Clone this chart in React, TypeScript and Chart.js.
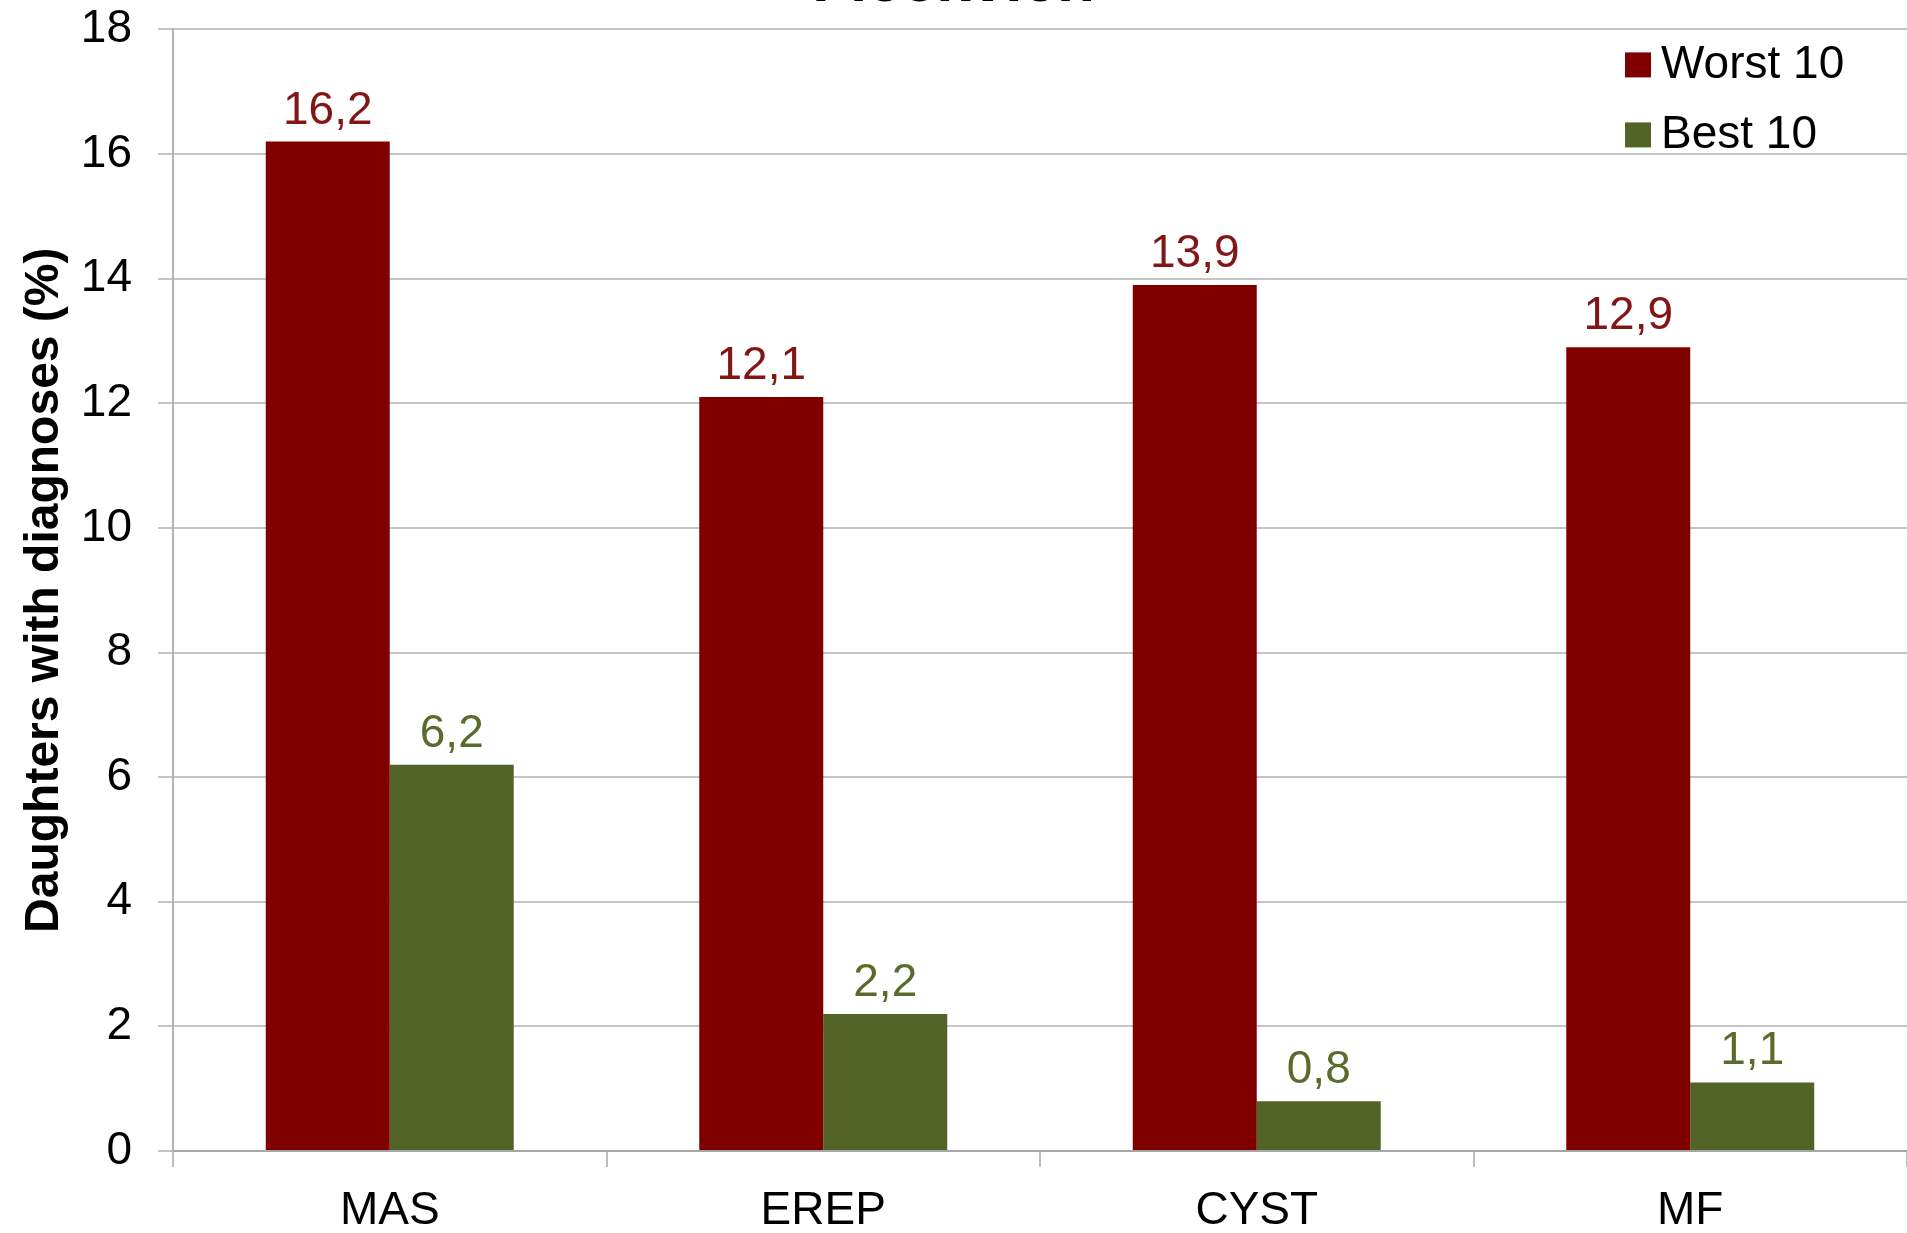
import React, { useEffect, useRef } from 'react';
import { Chart, registerables } from 'chart.js';

Chart.register(...registerables);

const chartTitle = 'Fleckvieh';
const yAxisTitle = 'Daughters with diagnoses (%)';
const categories = ['MAS', 'EREP', 'CYST', 'MF'];
const seriesNames = ['Worst 10', 'Best 10'];
const worst10 = [16.2, 12.1, 13.9, 12.9];
const best10 = [6.2, 2.2, 0.8, 1.1];
const yMin = 0;
const yMax = 18;
const yStep = 2;

const barColors = ['#800000', '#526328'];
const labelColors = ['#821515', '#5a6b2c'];
const FONT = '"Liberation Sans", Arial, sans-serif';
const TOP_OFFSET = 53;
const W = 1907;
const H = 1233 + TOP_OFFSET;

const valueLabels = {
  id: 'valueLabels',
  afterDatasetsDraw(chart: any) {
    const ctx = chart.ctx;
    chart.data.datasets.forEach((ds: any, i: number) => {
      const meta = chart.getDatasetMeta(i);
      meta.data.forEach((el: any, j: number) => {
        const v = ds.data[j] as number;
        ctx.save();
        ctx.font = `46px ${FONT}`;
        ctx.fillStyle = labelColors[i];
        ctx.textAlign = 'center';
        ctx.textBaseline = 'alphabetic';
        ctx.fillText(v.toFixed(1).replace('.', ','), el.x, el.y - 18);
        ctx.restore();
      });
    });
  },
};

const insideLegend = {
  id: 'insideLegend',
  afterDraw(chart: any) {
    const { ctx, chartArea } = chart;
    const x0 = chartArea.right - 282;
    chart.data.datasets.forEach((ds: any, i: number) => {
      const cy = chartArea.top + 35.5 + i * 70;
      ctx.save();
      ctx.fillStyle = ds.backgroundColor;
      ctx.fillRect(x0, cy - 12.5, 26, 25);
      ctx.fillStyle = '#000000';
      ctx.font = `46px ${FONT}`;
      ctx.textAlign = 'left';
      ctx.textBaseline = 'middle';
      ctx.fillText(ds.label, x0 + 36, cy);
      ctx.restore();
    });
  },
};

export default function App() {
  const ref = useRef<HTMLCanvasElement | null>(null);

  useEffect(() => {
    if (!ref.current) return;
    const chart = new Chart(ref.current, {
      type: 'bar',
      data: {
        labels: categories,
        datasets: [
          { label: seriesNames[0], data: worst10, backgroundColor: barColors[0], borderWidth: 0 },
          { label: seriesNames[1], data: best10, backgroundColor: barColors[1], borderWidth: 0 },
        ],
      },
      options: {
        responsive: false,
        animation: false,
        devicePixelRatio: 1,
        layout: { padding: 0 },
        datasets: { bar: { categoryPercentage: 0.572, barPercentage: 1 } },
        plugins: {
          legend: { display: false },
          tooltip: { enabled: false },
          title: {
            display: true,
            text: chartTitle,
            color: '#000000',
            font: { family: FONT, size: 62, weight: 'bold' },
            padding: { top: 0, bottom: 8 },
          },
        },
        scales: {
          x: {
            offset: true,
            grid: {
              offset: true,
              drawOnChartArea: false,
              drawTicks: true,
              tickLength: 16,
              color: '#bdbdbd',
              lineWidth: 2,
            },
            border: { display: true, color: '#a6a6a6', width: 2 },
            ticks: { color: '#000000', font: { family: FONT, size: 46 }, padding: 17 },
            afterFit: (s: any) => { s.height = 82; },
          },
          y: {
            min: yMin,
            max: yMax,
            ticks: { stepSize: yStep, color: '#000000', font: { family: FONT, size: 46 }, padding: 26 },
            grid: { color: '#c4c4c4', lineWidth: 2, tickLength: 15, drawTicks: true },
            border: { display: true, color: '#b4b4b4', width: 2 },
            title: {
              display: true,
              text: yAxisTitle,
              color: '#000000',
              font: { family: FONT, size: 48, weight: 'bold' },
              padding: { top: 16, bottom: 0 },
            },
            afterFit: (s: any) => { s.width = 173; },
          },
        },
      },
      plugins: [valueLabels, insideLegend],
    } as any);
    return () => chart.destroy();
  }, []);

  return (
    <div style={{ position: 'fixed', left: 0, top: 0, width: W, height: 1233, overflow: 'hidden', background: '#ffffff' }}>
      <canvas ref={ref} width={W} height={H} style={{ position: 'absolute', left: 0, top: -TOP_OFFSET, width: W, height: H }} />
    </div>
  );
}
